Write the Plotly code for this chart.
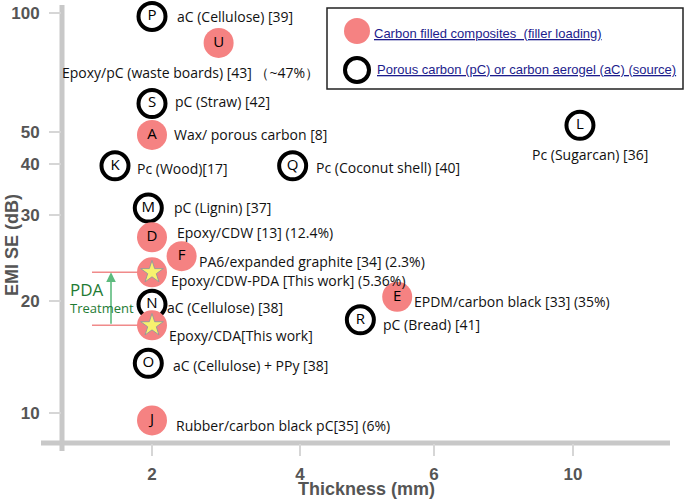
import numpy as np
import plotly.graph_objects as go

# ---------------- data ----------------
# Carbon filled composites (filled markers)
comp_letters = ["U", "A", "D", "F", "E", "J", "", ""]
comp_thickness = [2.9, 2.0, 2.0, 2.4, 5.45, 2.0, 2.0, 2.0]
comp_emi = [84, 49, 27, 24.7, 20.4, 9.55, 22.9, 17.2]
comp_labels = [
    "Epoxy/pC (waste boards) [43] （~47%）",
    "Wax/ porous carbon [8]",
    "Epoxy/CDW [13] (12.4%)",
    "PA6/expanded graphite [34] (2.3%)",
    "EPDM/carbon black [33] (35%)",
    "Rubber/carbon black pC[35] (6%)",
    "Epoxy/CDW-PDA [This work] (5.36%)",
    "Epoxy/CDA[This work]",
]
comp_this_work = [False, False, False, False, False, False, True, True]

# Porous carbon / carbon aerogel (open markers)
por_letters = ["P", "S", "K", "Q", "L", "M", "N", "R", "O"]
por_thickness = [2.0, 2.0, 1.5, 3.9, 10.2, 1.95, 2.0, 4.9, 1.95]
por_emi = [98, 59, 39.6, 39.6, 52, 31.2, 19.6, 17.8, 13.6]
por_labels = [
    "aC (Cellulose) [39]",
    "pC (Straw) [42]",
    "Pc (Wood)[17]",
    "Pc (Coconut shell) [40]",
    "Pc (Sugarcan) [36]",
    "pC (Lignin) [37]",
    "aC (Cellulose) [38]",
    "pC (Bread) [41]",
    "aC (Cellulose) + PPy [38]",
]

x_ticks = [2, 4, 6, 10]
y_ticks = [10, 20, 30, 40, 50, 100]

legend_names = ["Carbon filled composites  (filler loading)",
                "Porous carbon (pC) or carbon aerogel (aC) (source)"]

# ---------------- axis scales (non-uniform, as drawn in the reference) ----------------
X_SCALE = [0.0, 1.055, 2.01, 3.0]
Y_SCALE = [0.0, 0.28, 0.495, 0.6225, 0.7025, 1.0]


def pw(v, src, dst):
    v = np.atleast_1d(np.asarray(v, float))
    src = np.asarray(src, float)
    dst = np.asarray(dst, float)
    out = np.interp(v, src, dst)
    lo = v < src[0]
    hi = v > src[-1]
    out[lo] = dst[0] + (v[lo] - src[0]) * (dst[1] - dst[0]) / (src[1] - src[0])
    out[hi] = dst[-1] + (v[hi] - src[-1]) * (dst[-1] - dst[-2]) / (src[-1] - src[-2])
    return out


def sx(t):
    return pw(t, x_ticks, X_SCALE)


def sy(v):
    return pw(np.log10(v), np.log10(y_ticks), Y_SCALE)


# label placement (anchor, xshift px, yshift px)
comp_label_pos = [("center", -28, -30), ("left", 20, 0), ("left", 23, 5), ("left", 15, -5),
                  ("left", 15, -5), ("left", 22, -5), ("left", 17, -8), ("left", 15, -10)]
por_label_pos = [("left", 23, 0), ("left", 21, 2), ("left", 20, -3), ("left", 21, -2),
                 ("center", 10, -29), ("left", 24, 1), ("left", 13, -3), ("left", 21, -5),
                 ("left", 23, -2)]

SALMON = "#F58282"
LABEL_FONT = dict(family="Open Sans, Noto Sans, sans-serif", size=14, color="#111111")
LETTER_FONT = dict(family="Open Sans, Noto Sans, sans-serif", size=15, color="#000000")
TICK_FONT = dict(family="Liberation Sans, Arial", size=17, color="#555555", weight="bold")
TITLE_FONT = dict(family="Liberation Sans, Arial", size=18, color="#555555", weight="bold")

fig = go.Figure()

# open markers (porous carbon)
fig.add_trace(go.Scatter(
    x=sx(por_thickness), y=sy(por_emi), mode="markers+text",
    text=por_letters, textposition="middle center", textfont=LETTER_FONT,
    marker=dict(size=27, color="white", line=dict(color="black", width=4)),
    cliponaxis=False, showlegend=False, name=legend_names[1], hoverinfo="skip"))

# filled markers (composites)
fig.add_trace(go.Scatter(
    x=sx(comp_thickness), y=sy(comp_emi), mode="markers+text",
    text=comp_letters, textposition="middle center", textfont=LETTER_FONT,
    marker=dict(size=30, color=SALMON, line=dict(width=0)),
    cliponaxis=False, showlegend=False, name=legend_names[0], hoverinfo="skip"))

# stars for "this work"
tw_x = [t for t, w in zip(comp_thickness, comp_this_work) if w]
tw_y = [e for e, w in zip(comp_emi, comp_this_work) if w]
fig.add_trace(go.Scatter(
    x=sx(tw_x), y=sy(tw_y), mode="markers",
    marker=dict(symbol="star", size=17, color="#F7F26E", line=dict(color="#9a9a9a", width=1)),
    cliponaxis=False, showlegend=False, hoverinfo="skip"))

annotations = []
for lab, t, e, (anc, dx, dy) in zip(comp_labels, comp_thickness, comp_emi, comp_label_pos):
    annotations.append(dict(x=sx(t)[0], y=sy(e)[0], xref="x", yref="y", text=lab, showarrow=False,
                            xanchor=anc, yanchor="middle", xshift=dx, yshift=dy, font=LABEL_FONT))
for lab, t, e, (anc, dx, dy) in zip(por_labels, por_thickness, por_emi, por_label_pos):
    annotations.append(dict(x=sx(t)[0], y=sy(e)[0], xref="x", yref="y", text=lab, showarrow=False,
                            xanchor=anc, yanchor="middle", xshift=dx, yshift=dy, font=LABEL_FONT))

# plot-area geometry in pixels
W, H = 685, 501
L_PX, R_PX, T_PX, B_PX = 62, 670, 5, 443
PW, PH = R_PX - L_PX, B_PX - T_PX


def px(p):
    return (p - L_PX) / PW


def py(p):
    return (B_PX - p) / PH


# axis titles
annotations.append(dict(x=0.5, y=py(489), xref="paper", yref="paper", text="Thickness (mm)",
                        showarrow=False, xanchor="center", yanchor="middle", font=TITLE_FONT))
annotations.append(dict(x=px(12), y=py(245), xref="paper", yref="paper", text="EMI SE (dB)",
                        showarrow=False, xanchor="center", yanchor="middle", textangle=-90,
                        font=TITLE_FONT))

# PDA treatment arrow + text
x_units_per_px = X_SCALE[-1] / (573 - 152)
arrow_x = (111 - 152) * x_units_per_px
annotations.append(dict(x=arrow_x, y=sy(tw_y[0])[0], ax=arrow_x, ay=sy(tw_y[1])[0],
                        xref="x", yref="y", axref="x", ayref="y", text="", showarrow=True,
                        arrowhead=2, arrowsize=1.2, arrowwidth=1.6, arrowcolor="#5DBB7E"))
annotations.append(dict(x=px(87), y=py(289), xref="paper", yref="paper", text="PDA", showarrow=False,
                        xanchor="center", yanchor="middle",
                        font=dict(family="Open Sans, sans-serif", size=17, color="#1E7B34")))
annotations.append(dict(x=px(102), y=py(308), xref="paper", yref="paper", text="Treatment",
                        showarrow=False, xanchor="center", yanchor="middle",
                        font=dict(family="Open Sans, sans-serif", size=13, color="#1E7B34")))

shapes = []
for e in tw_y:
    shapes.append(dict(type="line", xref="x", yref="y", x0=(92 - 152) * x_units_per_px,
                       x1=(140 - 152) * x_units_per_px, y0=sy(e)[0], y1=sy(e)[0],
                       line=dict(color="#F08A8A", width=1.5), layer="below"))

# axis lines
shapes.append(dict(type="line", xref="paper", yref="paper", x0=0, x1=0, y0=py(451), y1=py(5),
                   line=dict(color="#C8C8C8", width=5), layer="below"))
shapes.append(dict(type="line", xref="paper", yref="paper", x0=px(41), x1=1, y0=0, y1=0,
                   line=dict(color="#C8C8C8", width=5), layer="below"))

# legend box
shapes.append(dict(type="rect", xref="paper", yref="paper", x0=px(327), x1=px(683), y0=py(89), y1=py(8),
                   line=dict(color="#222222", width=1.5), fillcolor="white", layer="above"))
shapes.append(dict(type="circle", xref="paper", yref="paper", xsizemode="pixel", ysizemode="pixel",
                   xanchor=px(357), yanchor=py(31), x0=-13, x1=13, y0=-13, y1=13,
                   fillcolor=SALMON, line=dict(width=0), layer="above"))
shapes.append(dict(type="circle", xref="paper", yref="paper", xsizemode="pixel", ysizemode="pixel",
                   xanchor=px(357), yanchor=py(70), x0=-12, x1=12, y0=-12, y1=12,
                   fillcolor="white", line=dict(color="black", width=4), layer="above"))
LEG_FONT = dict(family="Liberation Sans, Arial", size=13, color="#1C1C8C")
annotations.append(dict(x=px(372), y=py(33), xref="paper", yref="paper",
                        text="<u>" + legend_names[0] + "</u>", showarrow=False,
                        xanchor="left", yanchor="middle", font=LEG_FONT))
annotations.append(dict(x=px(375), y=py(70), xref="paper", yref="paper",
                        text="<u>" + legend_names[1] + "</u>", showarrow=False,
                        xanchor="left", yanchor="middle", font=LEG_FONT))

fig.update_layout(
    width=W, height=H,
    margin=dict(l=L_PX, r=W - R_PX, t=T_PX, b=H - B_PX, pad=0),
    paper_bgcolor="white", plot_bgcolor="white",
    showlegend=False, hovermode=False,
    annotations=annotations, shapes=shapes,
    xaxis=dict(range=[(L_PX - 152) * x_units_per_px, (R_PX - 152) * x_units_per_px],
               tickvals=list(sx(x_ticks)), ticktext=[str(v) for v in x_ticks],
               ticks="outside", ticklen=12, tickwidth=2, tickcolor="#D6D6D6",
               showgrid=False, zeroline=False, showline=False, tickfont=TICK_FONT,
               ticklabelstandoff=4),
    yaxis=dict(range=[(413 - B_PX) / 400, (413 - T_PX) / 400],
               tickvals=list(sy(y_ticks)), ticktext=[str(v) for v in y_ticks],
               ticks="outside", ticklen=12, tickwidth=2, tickcolor="#D6D6D6",
               showgrid=False, zeroline=False, showline=False, tickfont=TICK_FONT,
               ticklabelstandoff=6),
)

fig.write_html("out.html", config={"displayModeBar": False, "staticPlot": True},
               post_script="document.body.style.margin='0px';document.body.style.overflow='hidden';")
